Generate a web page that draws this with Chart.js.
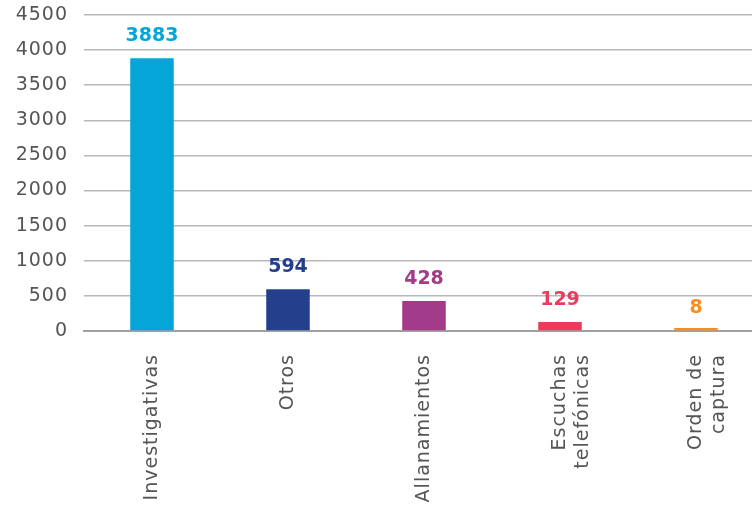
<!DOCTYPE html>
<html>
<head>
<meta charset="utf-8">
<script src="https://cdn.jsdelivr.net/npm/chart.js@4"></script>
<style>
  html, body { margin: 0; padding: 0; background: #fff; overflow: hidden; }
  #wrap { width: 764px; height: 508px; }
</style>
</head>
<body>
<div id="wrap"><canvas id="myChart" width="764" height="508"></canvas></div>
<script>
const categories = ['Investigativas', 'Otros', 'Allanamientos', ['Escuchas', 'telefónicas'], ['Orden de', 'captura']];
const values = [3883, 594, 428, 129, 8];
const barColors = ['#05a5d8', '#243f8c', '#a23b8a', '#ec3b5c', '#f39020'];
const yTicks = [0, 500, 1000, 1500, 2000, 2500, 3000, 3500, 4000, 4500];

// wider letter spacing for all the axis text
const spacing = {
    id: 'spacing',
    beforeUpdate(chart) { chart.ctx.letterSpacing = '1px'; },
    beforeDraw(chart) { chart.ctx.letterSpacing = '1px'; },
};

// numbers above each bar, in the bar's colour
const valueLabels = {
    id: 'valueLabels',
    afterDatasetsDraw(chart) {
        const ctx = chart.ctx;
        const meta = chart.getDatasetMeta(0);
        ctx.save();
        ctx.letterSpacing = '0px';
        ctx.font = 'bold 19px "DejaVu Sans"';
        ctx.textAlign = 'center';
        ctx.textBaseline = 'middle';
        meta.data.forEach((bar, i) => {
            ctx.fillStyle = barColors[i];
            ctx.fillText(values[i], bar.x, chart.scales.y.getPixelForValue(values[i]) - 22);
        });
        ctx.restore();
    },
};

const data = {
    labels: categories,
    datasets: [{
        data: values,
        backgroundColor: barColors,
        borderWidth: 0,
        barPercentage: 0.32,
        categoryPercentage: 1,
        minBarLength: 3,
    }],
};

const config = {
    type: 'bar',
    data: data,
    options: {
        responsive: false,
        animation: false,
        layout: { padding: { top: 15, right: 0, left: 0, bottom: 0 } },
        plugins: {
            legend: { display: false },
            tooltip: { enabled: false },
        },
        scales: {
            y: {
                min: 0,
                max: 4500,
                afterFit(axis) {
                    axis.width = 84;
                    axis.paddingTop = 0;
                    axis.paddingBottom = 0;
                },
                afterBuildTicks(axis) { axis.ticks = yTicks.map(v => ({ value: v })); },
                border: { display: false },
                grid: { color: '#b8b8b8', lineWidth: 1.5, drawTicks: false },
                ticks: {
                    color: '#555',
                    font: { family: 'DejaVu Sans', size: 19 },
                    padding: 16,
                    callback: v => String(v),
                },
            },
            x: {
                afterFit(axis) {
                    axis.height = 177;
                    axis.paddingLeft = 0;
                    axis.paddingRight = 0;
                },
                border: { color: '#a0a0a0', width: 2 },
                grid: { display: false },
                ticks: {
                    color: '#555',
                    font: { family: 'DejaVu Sans', size: 19 },
                    minRotation: 90,
                    maxRotation: 90,
                    padding: 15,
                },
            },
        },
    },
    plugins: [spacing, valueLabels],
};

const ctx = document.getElementById('myChart').getContext('2d');
const myChart = new Chart(ctx, config);
</script>
</body>
</html>
